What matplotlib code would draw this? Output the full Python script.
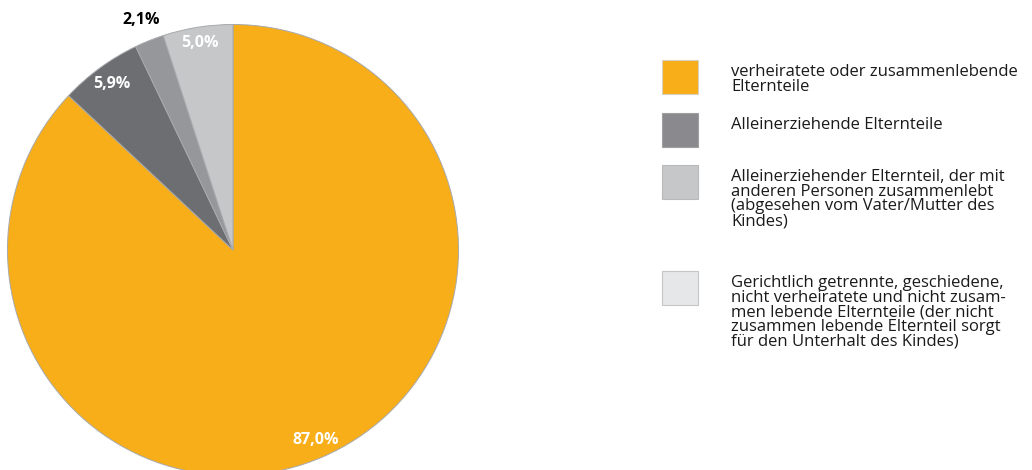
import numpy as np
import matplotlib
matplotlib.use('Agg')
import matplotlib.pyplot as plt
from matplotlib.patches import Rectangle

# data
shares = [87.0, 5.9, 2.1, 5.0]
share_labels = ["87,0%", "5,9%", "2,1%", "5,0%"]
pie_colors = ["#f7ae18", "#6d6e72", "#96979b", "#c6c7c9"]
label_colors = ["white", "white", "black", "white"]
label_dist = [0.92, 0.91, 1.10, 0.93]

legend_labels = [
    "verheiratete oder zusammenlebende\nElternteile",
    "Alleinerziehende Elternteile",
    "Alleinerziehender Elternteil, der mit\nanderen Personen zusammenlebt\n(abgesehen vom Vater/Mutter des\nKindes)",
    "Gerichtlich getrennte, geschiedene,\nnicht verheiratete und nicht zusam-\nmen lebende Elternteile (der nicht\nzusammen lebende Elternteil sorgt\nfür den Unterhalt des Kindes)",
]
legend_colors = ["#f7ae18", "#8a8a8e", "#c6c7c9", "#e6e7e8"]
legend_edges = ["#d9cfc0", "#a0a0a3", "#b8b9bb", "#c4c5c7"]

W, H = 1032, 470
fig = plt.figure(figsize=(W / 100, H / 100), dpi=100)
ax = fig.add_axes([0, 0, 1, 1])

cx, cy, R = 233, H - 250, 225.5
wedges, _ = ax.pie(shares, colors=pie_colors, startangle=90, counterclock=False,
                   center=(cx, cy), radius=R, frame=True,
                   wedgeprops=dict(edgecolor='#a8a9ac', linewidth=0.7))
ax.set_xlim(0, W)
ax.set_ylim(0, H)
ax.set_aspect('equal')
ax.set_axis_off()

for w, lab, col, d in zip(wedges, share_labels, label_colors, label_dist):
    mid = np.deg2rad((w.theta1 + w.theta2) / 2)
    ax.text(cx + d * R * np.cos(mid), cy + d * R * np.sin(mid), lab,
            color=col, fontsize=11.5, fontweight='bold', family='Open Sans',
            ha='center', va='center')

# legend
sq_tops = [60, 113, 165, 271]
txt_tops = [64, 117, 169, 275]
for lab, col, ec, st, tt in zip(legend_labels, legend_colors, legend_edges, sq_tops, txt_tops):
    ax.add_patch(Rectangle((662, H - st - 34), 36, 34, facecolor=col,
                           edgecolor=ec, linewidth=0.8))
    ax.text(731, H - tt, lab, fontsize=12.0, family='Open Sans', color='#1a1a1a',
            ha='left', va='top', linespacing=0.89)

fig.savefig('out.png', dpi=100)
